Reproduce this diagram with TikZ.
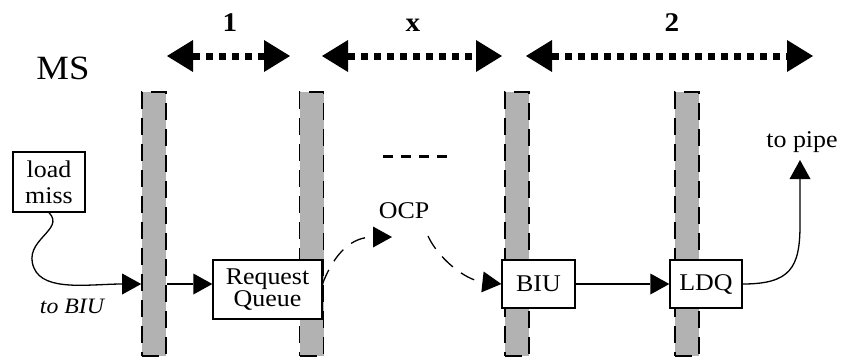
\documentclass[tikz,border=0pt]{standalone}
\usepackage{fontspec}
\setmainfont{Liberation Serif}[FakeStretch=1.08]
\usetikzlibrary{arrows.meta}
\usetikzlibrary{positioning}

\tikzset{
  latch/.style={draw,fill=black!30,line width=1.6pt,dash pattern=on 17pt off 9pt,minimum width=24pt,minimum height=264pt,inner sep=0pt},
  unit/.style={draw,fill=white,line width=1.3pt,inner sep=0pt,align=center,font=\fontsize{24}{22}\selectfont},
  flow/.style={-{Triangle[length=19pt,width=21pt,line width=0pt]},line width=1.3pt},
  flowdash/.style={flow,dash pattern=on 15pt off 10pt},
  span/.style={{Triangle[length=26pt,width=32pt,line width=0pt]}-{Triangle[length=26pt,width=32pt,line width=0pt]},line width=7pt,dash pattern=on 7pt off 6pt},
  cyc/.style={anchor=base,font=\fontsize{27}{27}\selectfont\bfseries},
  lbl/.style={anchor=base,font=\fontsize{24}{24}\selectfont},
}

\begin{document}
\begin{tikzpicture}[x=1pt,y=-1pt]
	\useasboundingbox (0,0) rectangle (842,360);
	% pipeline latches
	\node[latch] (l1) at (154,224) {};
	\node[latch,right=132pt of l1] (l2) {};
	\node[latch,right=180pt of l2] (l3) {};
	\node[latch,right=144pt of l3] (l4) {};
	% cycle spans
	\coordinate (s1a) at (167,56);
	\coordinate (s1b) at (290,56);
	\coordinate (sxa) at (322,56);
	\coordinate (sxb) at (502,56);
	\coordinate (s2a) at (526,56);
	\coordinate (s2b) at (813,56);
	\draw[span] (s1a) -- (s1b);
	\draw[span] (sxa) -- (sxb);
	\draw[span] (s2a) -- (s2b);
	\node[cyc] (c1) at (230,31) {1};
	\node[cyc] (cx) at (413,31) {x};
	\node[cyc] (c2) at (672,31) {2};
	\node[anchor=base,font=\fontsize{34}{34}\selectfont] (ms) at (63,79) {MS};
	% units
	\node[unit,minimum width=72pt,minimum height=60pt,font=\fontsize{24}{26}\selectfont] (lm) at (49,182) {load\\miss};
	\node[unit,minimum width=109pt,minimum height=59pt] (rq) at (267.5,289.5) {Request\\Queue};
	\node[unit,minimum width=73pt,minimum height=48pt] (biu) at (538.5,284) {BIU};
	\node[unit,minimum width=72pt,minimum height=48pt] (ldq) at (706,284) {LDQ};
	\node[lbl] (ocp) at (404,218) {OCP};
	\node[lbl] (tp) at (802,147) {to pipe};
	\node[anchor=base,font=\fontsize{22}{22}\selectfont\itshape] (tobiu) at (72,313) {to BIU};
	\coordinate (ocpin) at (392,237);
	\coordinate (ocpout) at (428,236);
	\coordinate (pipe) at (800,160);
	\coordinate (gapa) at (383,156);
	\coordinate (gapb) at (447,156);
	% connections
	\draw[flow] (lm.south) .. controls (66,230) and (22,240) .. (34,268)
		.. controls (44,292) and (90,284) .. (l1.west |- biu.west);
	\draw[flow] (l1.east |- biu.west) -- (rq.west |- biu.west);
	\draw[flowdash] ([yshift=6pt]rq.east) .. controls (335,252) and (352,237) .. (ocpin);
	\draw[flowdash] (ocpout) .. controls (438,258) and (465,280) .. (biu.west);
	\draw[flow] (biu.east) -- (ldq.west);
	\draw[flow] (ldq.east) .. controls (790,284) and (800,268) .. (800,225) -- (pipe);
	\draw[line width=3pt,dash pattern=on 10pt off 8pt] (gapa) -- (gapb);
\end{tikzpicture}
\end{document}
